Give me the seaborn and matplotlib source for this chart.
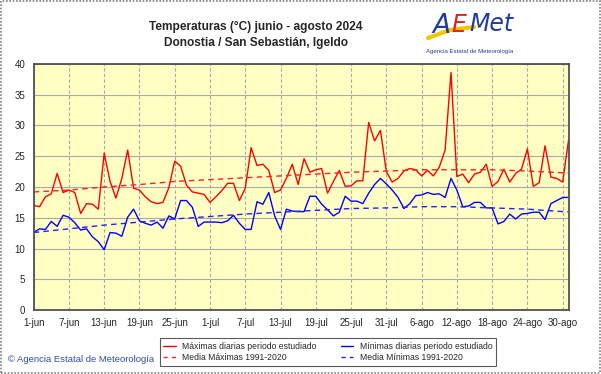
# temperaturas diarias junio - agosto 2024, Igueldo

import pandas as pd
import matplotlib
matplotlib.use("Agg")
from matplotlib import pyplot as plt
from matplotlib.patches import Rectangle
from matplotlib.lines import Line2D
import seaborn as sns

# -------------- datos (1-jun a 31-ago)

maximas = [17.0, 16.8, 18.4, 18.9, 22.2, 19.1, 19.5, 19.1, 15.7, 17.3,
           17.2, 16.4, 25.5, 20.9, 18.2, 21.4, 26.0, 19.8, 19.5, 18.4,
           17.6, 17.3, 17.5, 19.9, 24.2, 23.4, 20.3, 19.2, 19.0, 18.8,
           17.5, 18.4, 19.4, 20.6, 20.6, 17.8, 19.8, 26.4, 23.5, 23.7,
           22.7, 19.1, 19.5, 21.4, 23.7, 20.4, 24.6, 22.4, 22.8, 23.0,
           19.0, 20.9, 22.7, 20.1, 20.2, 21.0, 21.0, 30.5, 27.5, 29.2,
           22.5, 20.8, 21.4, 22.6, 23.0, 22.8, 21.8, 22.7, 21.8, 23.2,
           26.0, 38.6, 21.7, 22.1, 20.7, 22.1, 22.4, 23.7, 20.1, 20.9,
           22.9, 20.8, 22.2, 22.9, 26.2, 20.1, 20.7, 26.7, 21.6, 21.4,
           20.8, 27.6]

minimas = [12.6, 13.2, 13.1, 14.4, 13.6, 15.4, 15.1, 14.2, 13.0, 13.2,
           11.9, 11.1, 9.8, 12.6, 12.5, 12.0, 15.1, 16.4, 14.5, 14.1,
           13.8, 14.3, 13.3, 15.3, 14.8, 17.8, 17.8, 16.7, 13.6, 14.3,
           14.3, 14.3, 14.2, 14.5, 15.4, 14.1, 13.1, 13.1, 17.6, 17.2,
           19.1, 15.3, 13.1, 16.4, 16.1, 16.0, 16.0, 18.5, 18.5, 17.2,
           16.3, 15.3, 15.9, 18.5, 17.7, 17.7, 17.3, 19.0, 20.4, 21.4,
           20.5, 19.5, 18.3, 16.5, 17.3, 18.6, 18.7, 19.1, 18.8, 18.9,
           18.3, 21.4, 19.5, 16.8, 16.9, 17.5, 17.5, 16.6, 16.6, 14.0,
           14.4, 15.6, 14.8, 15.6, 15.7, 15.9, 15.9, 14.7, 17.3, 17.8,
           18.3, 18.3]

# medias 1991-2020 leidas cada 6 dias
dias_media = [0, 6, 12, 18, 24, 30, 36, 42, 48, 54, 60, 66, 72, 78, 84, 90, 91]
media_max = [19.2, 19.5, 20.0, 20.4, 20.9, 21.2, 21.5, 21.8, 22.1, 22.4,
             22.6, 22.8, 22.8, 22.8, 22.6, 22.3, 22.3]
media_min = [12.6, 13.2, 13.8, 14.3, 14.8, 15.2, 15.6, 15.9, 16.2, 16.5,
             16.6, 16.8, 16.8, 16.6, 16.4, 16.0, 16.0]

etiquetas = ["1-jun", "7-jun", "13-jun", "19-jun", "25-jun", "1-jul", "7-jul",
             "13-jul", "19-jul", "25-jul", "31-jul", "6-ago", "12-ago",
             "18-ago", "24-ago", "30-ago"]

df = pd.DataFrame({"dia": range(len(maximas)), "max": maximas, "min": minimas})
df_media = pd.DataFrame({"dia": dias_media, "max": media_max, "min": media_min})

# -------------- grafica

sns.set_style("white")
plt.rcParams["font.family"] = ["Liberation Sans", "DejaVu Sans"]

fig = plt.figure(figsize=(6.01, 3.74), dpi=100)
ax = fig.add_axes([0.056, 0.171, 0.89, 0.658])
ax.set_facecolor("#FFFFC4")

sns.lineplot(data=df, x="dia", y="max", color="#FF0000", linewidth=1, ax=ax)
sns.lineplot(data=df, x="dia", y="min", color="#0000FF", linewidth=1, ax=ax)
sns.lineplot(data=df_media, x="dia", y="max", color="#FF2020", linewidth=1,
             linestyle=(0, (4, 3)), ax=ax)
sns.lineplot(data=df_media, x="dia", y="min", color="#2020FF", linewidth=1,
             linestyle=(0, (4, 3)), ax=ax)

ax.set_xlim(0, 91)
ax.set_ylim(0, 40)
ax.set_xticks(range(0, 91, 6))
ax.set_xticklabels(etiquetas)
ax.set_yticks(range(0, 41, 5))
ax.tick_params(axis="both", length=0, labelsize=7, pad=6)
ax.set_xlabel("")
ax.set_ylabel("")

ax.grid(axis="x", color="#A8A8A8", linestyle=(0, (3, 2)), linewidth=0.8)
ax.grid(axis="y", color="#A8A8A8", linestyle="-", linewidth=0.8)
ax.set_axisbelow(True)
for lado in ax.spines.values():
    lado.set_color("#505050")
    lado.set_linewidth(1.3)

# titulo
fig.text(256 / 601, 1 - 27 / 374, "Temperaturas (°C) junio - agosto 2024",
         ha="center", va="center", fontsize=8.6, fontweight="bold")
fig.text(256 / 601, 1 - 43 / 374, "Donostia / San Sebastián, Igeldo",
         ha="center", va="center", fontsize=8.6, fontweight="bold")

# logo aproximado
fig.text(432 / 601, 1 - 26 / 374, "A", color="#1F3C9A", fontsize=19,
         style="italic", ha="left", va="center", family="DejaVu Sans")
fig.text(451 / 601, 1 - 25 / 374, "E", color="#E02020", fontsize=17,
         style="italic", ha="left", va="center", family="DejaVu Sans")
fig.text(469 / 601, 1 - 24 / 374, "Met", color="#1F3C9A", fontsize=17,
         style="italic", ha="left", va="center", family="DejaVu Sans")
fig.add_artist(Line2D([428 / 601, 450 / 601, 474 / 601], [1 - 38 / 374, 1 - 30 / 374, 1 - 27 / 374],
                      color="#F5C400", linewidth=3))
fig.text(470 / 601, 1 - 52 / 374, "Agencia Estatal de Meteorología", color="#1F3C9A",
         fontsize=4.3, ha="center", va="center")

# leyenda
manejadores = [
    Line2D([], [], color="#FF0000", linewidth=1, label="Máximas diarias periodo estudiado"),
    Line2D([], [], color="#FF2020", linewidth=1, linestyle=(0, (3, 3)), label="Media Máximas 1991-2020"),
    Line2D([], [], color="#0000FF", linewidth=1, label="Mínimas diarias periodo estudiado"),
    Line2D([], [], color="#2020FF", linewidth=1, linestyle=(0, (3, 3)), label="Media Mínimas 1991-2020"),
]
leyenda = fig.legend(handles=manejadores, ncol=2, loc="center",
                     bbox_to_anchor=(328 / 601, 1 - 352 / 374), fontsize=6.2,
                     frameon=True, fancybox=False, handlelength=1.4,
                     handletextpad=0.8, columnspacing=2.8, labelspacing=0.25,
                     borderpad=0.45)
leyenda.get_frame().set_edgecolor("#303030")
leyenda.get_frame().set_linewidth(0.8)

fig.text(8 / 601, 1 - 360 / 374, "© Agencia Estatal de Meteorología", color="#2F4FA8",
         fontsize=6.8, ha="left", va="center")

# marco exterior
fig.add_artist(Rectangle((0.002, 0.003), 0.996, 0.994, transform=fig.transFigure,
                         fill=False, edgecolor="#808080", linewidth=1.2,
                         linestyle=(0, (1, 1))))

fig.savefig("out.png", dpi=100)
